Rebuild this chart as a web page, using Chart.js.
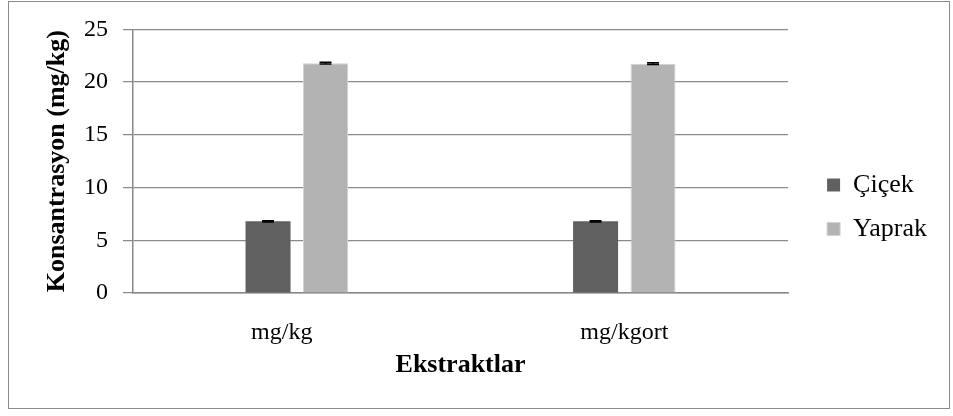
<!DOCTYPE html>
<html lang="tr">
<head>
<meta charset="UTF-8">
<title>Konsantrasyon</title>
<style>
  body{margin:0;padding:0;background:#fff;}
  #wrap{position:relative;width:953px;height:416px;}
  #frame{position:absolute;left:8px;top:1px;width:942px;height:408px;border:1px solid #8a8a8a;box-sizing:border-box;pointer-events:none;}
  canvas{position:absolute;left:0;top:0;}
</style>
<script src="https://cdn.jsdelivr.net/npm/chart.js"></script>
</head>
<body>
<div id="wrap">
  <canvas id="c" width="953" height="416"></canvas>
  <div id="frame"></div>
</div>
<script>
/* ===== Data ===== */
// first category name carries trailing spaces, as in the source sheet (label sits left of centre)
const categories = ["mg/kg     ", "mg/kgort"];
const cicek = [6.8, 6.8];
const yaprak = [21.8, 21.75];
const cicekErr = [0.06, 0.06];
const yaprakErr = [0.08, 0.08];
const yMin = 0, yMax = 25, yStep = 5;

const serif = '"Liberation Serif","Times New Roman",serif';

/* ===== Error bars ===== */
const errorBars = {
  id: "errorBars",
  afterDatasetsDraw(chart) {
    const ctx = chart.ctx, y = chart.scales.y;
    chart.data.datasets.forEach((ds, i) => {
      const meta = chart.getDatasetMeta(i);
      meta.data.forEach((bar, j) => {
        const v = ds.data[j], e = ds.errors[j];
        const t = y.getPixelForValue(v + e), b = y.getPixelForValue(v - e);
        ctx.save();
        ctx.strokeStyle = "#000";
        ctx.lineWidth = 1.5;
        ctx.beginPath();
        ctx.moveTo(bar.x, t); ctx.lineTo(bar.x, b);
        ctx.moveTo(bar.x - 6, t); ctx.lineTo(bar.x + 6, t);
        ctx.moveTo(bar.x - 6, b); ctx.lineTo(bar.x + 6, b);
        ctx.stroke();
        ctx.restore();
      });
    });
  }
};

new Chart(document.getElementById("c"), {
  type: "bar",
  data: {
    labels: categories,
    datasets: [
      {label: "Çiçek", data: cicek, errors: cicekErr, backgroundColor: "#606060", borderWidth: 0},
      {label: "Yaprak", data: yaprak, errors: yaprakErr, backgroundColor: "#b3b3b3", borderColor: "#d2d2d2", borderWidth: 1}
    ]
  },
  options: {
    responsive: false,
    animation: false,
    devicePixelRatio: 1,
    categoryPercentage: 0.351,
    barPercentage: 0.783,
    layout: {padding: {top: 29, left: 38, right: 16, bottom: 31}},
    plugins: {
      tooltip: {enabled: false},
      legend: {
        position: "right",
        align: "center",
        labels: {
          font: {family: serif, size: 26},
          color: "#000",
          boxWidth: 13,
          boxHeight: 13,
          padding: 18
        }
      }
    },
    scales: {
      x: {
        grid: {display: false},
        border: {display: true, color: "#888", width: 1.5},
        ticks: {font: {family: serif, size: 24}, color: "#000", padding: 17},
        title: {display: true, text: "Ekstraktlar", font: {family: serif, size: 26, weight: "bold"}, color: "#000", padding: 4},
        afterFit(s) { s.height = 92; }
      },
      y: {
        min: yMin, max: yMax,
        ticks: {stepSize: yStep, font: {family: serif, size: 24}, color: "#000", padding: 15},
        grid: {color: "#8a8a8a", lineWidth: 1.25, tickLength: 10, drawTicks: true},
        border: {display: true, color: "#888", width: 1.5},
        title: {display: true, text: "Konsantrasyon (mg/kg)", font: {family: serif, size: 26, weight: "bold"}, color: "#000", padding: 4},
        afterFit(s) { s.width = 95; }
      },
      gap: {
        position: "right",
        display: true,
        grid: {display: false},
        border: {display: false},
        ticks: {display: false},
        afterFit(s) { s.width = 21; }
      }
    }
  },
  plugins: [errorBars]
});
</script>
</body>
</html>
